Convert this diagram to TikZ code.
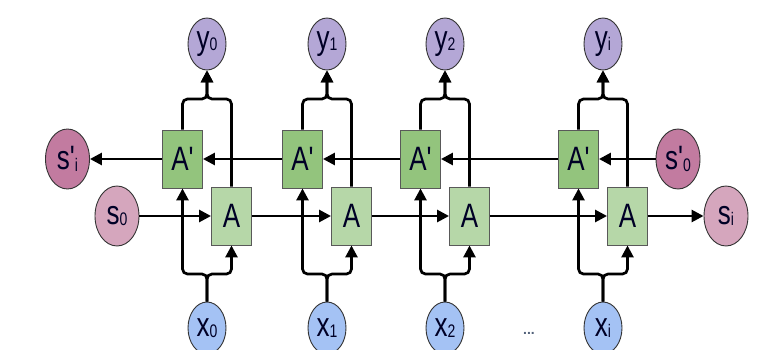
\documentclass[tikz,border=0pt]{standalone}
\usepackage{graphicx}
\usepackage{fontspec}
\setmainfont{Liberation Sans}
\usetikzlibrary{arrows.meta,shapes.geometric}

\definecolor{ycol}{HTML}{B4A7D6}
\definecolor{xcol}{HTML}{A4C2F4}
\definecolor{scol}{HTML}{D5A6BD}
\definecolor{spcol}{HTML}{C27BA0}
\definecolor{bwdcol}{HTML}{93C47D}
\definecolor{fwdcol}{HTML}{B6D7A8}

% stretched labels, small index, straight prime
\newcommand{\tall}[1]{\scalebox{1}[1.3]{#1}}
\newcommand{\idx}[1]{\raisebox{-1pt}{\fontsize{14}{14}\selectfont #1}}
\newcommand{\pr}{\textquotesingle}

\tikzset{
  lbl/.style={font=\fontsize{26}{26}\selectfont, text=black!85!blue, inner sep=0pt},
  cell/.style={lbl, draw=gray!70!black, line width=0.9pt, minimum width=40pt, minimum height=58pt},
  fwd/.style={cell, fill=fwdcol},
  bwd/.style={cell, fill=bwdcol},
  blob/.style={lbl, ellipse, draw=gray!40!black, line width=0.9pt},
  small/.style={blob, minimum width=38pt, minimum height=52pt},
  big/.style={blob, minimum width=44pt, minimum height=60pt},
  wire/.style={line width=2.7pt, rounded corners=5pt},
}

\begin{document}
\begin{tikzpicture}[x=1pt, y=-1pt, >={Triangle[length=12pt,width=12pt]}]
  \useasboundingbox (0,0) rectangle (773,350);

  % states at both ends
  \node[big, fill=spcol] (spi) at (67.5,159) {\tall{s\pr\idx{i}}};
  \node[big, fill=spcol] (sp0) at (678,159) {\tall{s\pr\idx{0}}};
  \node[big, fill=scol]  (s0)  at (117,216) {\tall{s\idx{0}}};
  \node[big, fill=scol]  (si)  at (726,216) {\tall{s\idx{i}}};

  % one column per time step
  \foreach \c/\k/\n in {207/0/1, 327/1/2, 445/2/3, 603/i/4}{
    \node[small, fill=ycol] (y\n) at (\c,44)  {\tall{y\idx{\k}}};
    \node[small, fill=xcol] (x\n) at (\c,328) {\tall{x\idx{\k}}};
    \node[bwd] (B\n) at (\c-24.5,159) {\tall{A\pr}};
    \node[fwd] (F\n) at (\c+24.5,216) {\tall{A}};
    \coordinate (top\n) at (\c,99);
    \coordinate (bot\n) at (\c,274);
    \draw[wire,->] (x\n) -- (bot\n) -| (B\n);
    \draw[wire,->] (x\n) -- (bot\n) -| (F\n);
    \draw[wire,->] (B\n) |- (top\n) -- (y\n);
    \draw[wire,->] (F\n) |- (top\n) -- (y\n);
  }

  % forward and backward chains
  \foreach \a/\b in {s0/F1, F1/F2, F2/F3, F3/F4, F4/si, sp0/B4, B4/B3, B3/B2, B2/B1, B1/spi}
    \draw[wire,->] (\a) -- (\b);

  \node[font=\bfseries\fontsize{14}{14}\selectfont, text=xcol!50!black, inner sep=0pt] (dots) at (529,333) {...};
\end{tikzpicture}
\end{document}
